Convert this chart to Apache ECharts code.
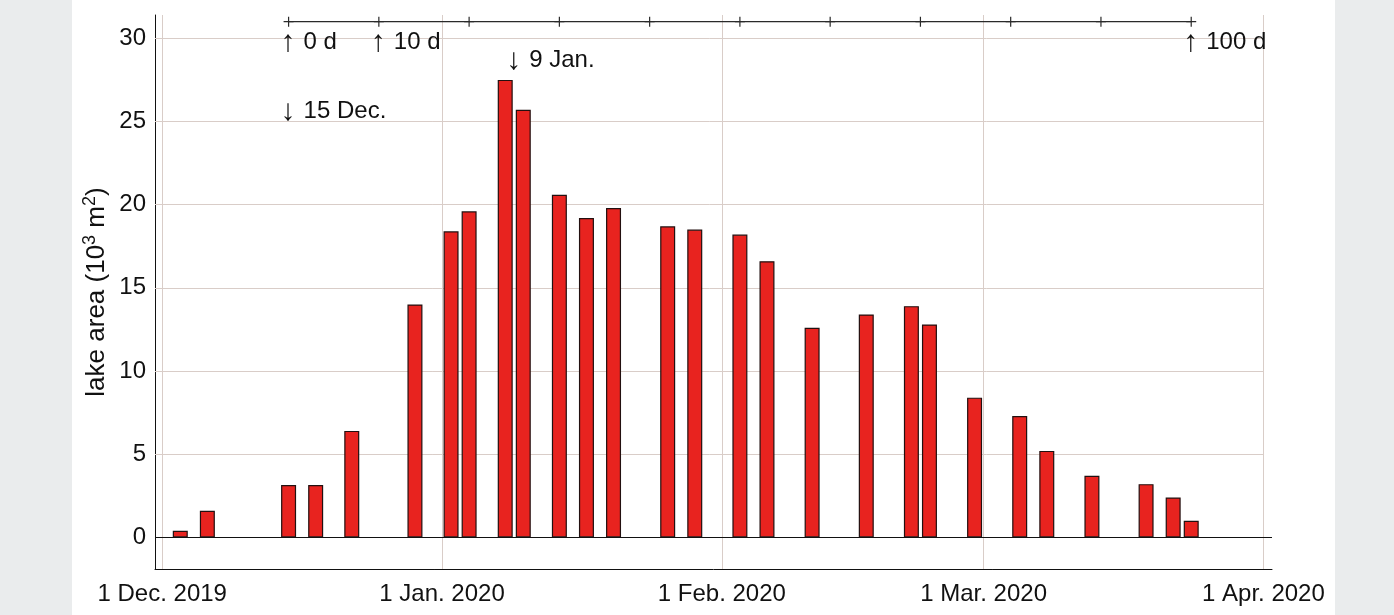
<!DOCTYPE html>
<html>
<head>
<meta charset="utf-8">
<script src="https://cdn.jsdelivr.net/npm/echarts@6/dist/echarts.min.js"></script>
<style>
  html, body { margin: 0; padding: 0; }
  body {
    width: 1394px; height: 615px; overflow: hidden;
    background: linear-gradient(to right, #eaeced 0, #eaeced 72px, #ffffff 72px, #ffffff 1335px, #eaeced 1335px);
  }
  #chart { width: 1394px; height: 615px; }
</style>
</head>
<body>
<div id="chart"></div>
<script>
// Acquisition dates of the lake outlines and the mapped lake area (10^3 m^2)
const dates = [
  '2019-12-03', '2019-12-06', '2019-12-15', '2019-12-18', '2019-12-22', '2019-12-29',
  '2020-01-02', '2020-01-04', '2020-01-08', '2020-01-10', '2020-01-14', '2020-01-17',
  '2020-01-20', '2020-01-26', '2020-01-29', '2020-02-03', '2020-02-06', '2020-02-11',
  '2020-02-17', '2020-02-22', '2020-02-24', '2020-02-29', '2020-03-05', '2020-03-08',
  '2020-03-13', '2020-03-19', '2020-03-22', '2020-03-24'
];
const lakeArea = [
  0.4, 1.6, 3.15, 3.15, 6.4, 14.0,
  18.4, 19.6, 27.5, 25.7, 20.6, 19.2,
  19.8, 18.7, 18.5, 18.2, 16.6, 12.6,
  13.4, 13.9, 12.8, 8.4, 7.3, 5.2,
  3.7, 3.2, 2.4, 1.0
];

// Axis ticks
const monthTicks = ['2019-12-01', '2020-01-01', '2020-02-01', '2020-03-01', '2020-04-01'];
const areaTicks = [0, 5, 10, 15, 20, 25, 30];

// Day counter drawn along the top, counted from the onset of lake filling
const eventStart = '2019-12-15';
const peakDate = '2020-01-09';
const dayScale = [0, 10, 20, 30, 40, 50, 60, 70, 80, 90, 100];
const dayScaleLabelled = [0, 10, 100];

const MONTHS = ['Jan.', 'Feb.', 'Mar.', 'Apr.', 'May', 'Jun.', 'Jul.', 'Aug.', 'Sep.', 'Oct.', 'Nov.', 'Dec.'];
const DAY = 86400000;
const FONT = "'Liberation Sans', Arial, Helvetica, sans-serif";
const INK = '#111111';
const GRID_COLOR = '#d9cdc8';
const FS = 24;

function ts(s) {
  const p = s.split('-').map(Number);
  return Date.UTC(p[0], p[1] - 1, p[2]);
}
// the x axis runs in days counted from the first month tick
const ORIGIN = ts(monthTicks[0]);
function dayOf(s) { return Math.round((ts(s) - ORIGIN) / DAY); }
function dateOfDay(n) { return new Date(ORIGIN + n * DAY); }
function dayMonth(n) {
  const d = dateOfDay(n);
  return d.getUTCDate() + ' ' + MONTHS[d.getUTCMonth()];
}

const monthDays = monthTicks.map(dayOf);
const lastMonth = monthDays[monthDays.length - 1];
const xMin = -0.8;
const xMax = lastMonth + 0.95;
const yMin = -1.9;
const yMax = 31.4;

// heights (in axis units) of the text annotations and the day counter
const COUNTER_Y = 31.0;
const COUNTER_LABEL_Y = 29.75;
const START_LABEL_Y = 25.6;
const PEAK_LABEL_Y = 28.65;

const startDay = dayOf(eventStart);
const peakDay = dayOf(peakDate);

const gridLines = [];
areaTicks.filter(v => v !== 0).forEach(v => {
  gridLines.push([{ coord: [xMin, v] }, { coord: [lastMonth, v] }]);
});
monthDays.forEach(t => {
  gridLines.push([{ coord: [t, yMin] }, { coord: [t, yMax] }]);
});

const annotations = dayScaleLabelled.map(d => ({
  value: [startDay + d, COUNTER_LABEL_Y],
  text: '{arrow|\u2191}' + d + ' d'
}));
annotations.push({ value: [startDay, START_LABEL_Y], text: '{arrow|\u2193}' + dayMonth(startDay) });
annotations.push({ value: [peakDay, PEAK_LABEL_Y], text: '{arrow|\u2193}' + dayMonth(peakDay) });

const chart = echarts.init(document.getElementById('chart'), null, { renderer: 'canvas' });

chart.setOption({
  animation: false,
  backgroundColor: 'transparent',
  textStyle: { fontFamily: FONT },
  grid: { left: 155, right: 122, top: 15, bottom: 46, containLabel: false },
  xAxis: {
    type: 'value',
    min: xMin,
    max: xMax,
    axisLine: { show: true, onZero: false, lineStyle: { color: INK, width: 1 } },
    axisTick: { show: true, inside: true, length: 10, customValues: monthDays, lineStyle: { color: INK, width: 1 } },
    axisLabel: {
      customValues: monthDays,
      margin: 13,
      fontSize: FS,
      color: INK,
      fontFamily: FONT,
      formatter: v => {
        const d = dateOfDay(v);
        return d.getUTCDate() + ' ' + MONTHS[d.getUTCMonth()] + ' ' + d.getUTCFullYear();
      }
    },
    splitLine: { show: false }
  },
  yAxis: {
    type: 'value',
    min: yMin,
    max: yMax,
    name: 'lake area (10{sup|3} m{sup|2})',
    nameLocation: 'middle',
    nameGap: 42,
    nameMoveOverlap: false,
    nameTextStyle: {
      fontSize: 26,
      color: INK,
      fontFamily: FONT,
      lineHeight: 32,
      rich: { sup: { fontSize: 18, lineHeight: 32, verticalAlign: 'top', padding: [0, 0, 10, 0] } }
    },
    axisLine: { show: true, onZero: false, lineStyle: { color: INK, width: 1 } },
    axisTick: { show: true, inside: true, length: 10, customValues: areaTicks, lineStyle: { color: INK, width: 1 } },
    axisLabel: { customValues: areaTicks, margin: 9, fontSize: FS, color: INK, fontFamily: FONT },
    splitLine: { show: false }
  },
  series: [
    {
      // background grid, kept beneath the bars
      type: 'line',
      data: [],
      z: 1,
      silent: true,
      markLine: {
        z: 1,
        silent: true,
        symbol: ['none', 'none'],
        label: { show: false },
        lineStyle: { color: GRID_COLOR, width: 1, type: 'solid' },
        data: gridLines
      }
    },
    {
      type: 'bar',
      z: 3,
      barWidth: 15,
      data: dates.map((d, i) => [dayOf(d), lakeArea[i]]),
      itemStyle: { color: '#e8231f', borderColor: '#221010', borderWidth: 1.2 },
      markLine: {
        silent: true,
        symbol: ['none', 'none'],
        label: { show: false },
        lineStyle: { color: INK, width: 1.2, type: 'solid' },
        data: [{ yAxis: 0 }]
      }
    },
    {
      // day counter along the top
      type: 'line',
      z: 4,
      silent: true,
      data: dayScale.map(d => [startDay + d, COUNTER_Y]),
      lineStyle: { color: '#2a2a2a', width: 1.2 },
      symbol: 'path://M-0.6,-5L0.6,-5L0.6,-0.6L5,-0.6L5,0.6L0.6,0.6L0.6,5L-0.6,5L-0.6,0.6L-5,0.6L-5,-0.6L-0.6,-0.6Z',
      symbolSize: 10,
      showSymbol: true,
      itemStyle: { color: '#2a2a2a' }
    },
    {
      // text annotations
      type: 'scatter',
      z: 5,
      silent: true,
      symbolSize: 0,
      itemStyle: { opacity: 1 },
      data: annotations.map(a => ({ value: a.value, text: a.text })),
      label: {
        show: true,
        position: 'right',
        distance: 0,
        offset: [-8, 0],
        fontSize: FS,
        color: INK,
        fontFamily: FONT,
        formatter: p => p.data.text,
        rich: {
          arrow: { fontSize: 30, fontFamily: FONT, color: INK, padding: [0, 8, 0, 0] }
        }
      }
    }
  ]
});
</script>
</body>
</html>
